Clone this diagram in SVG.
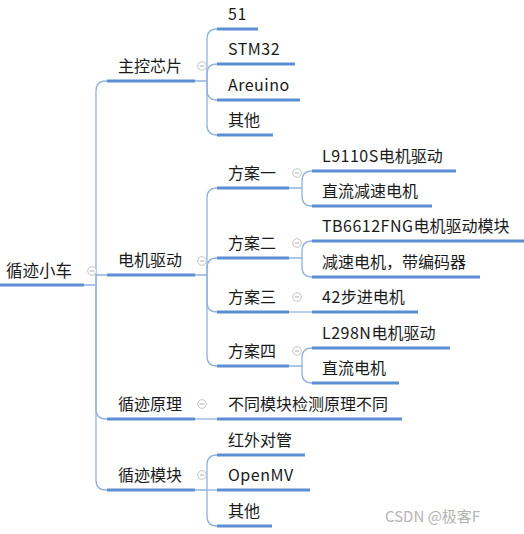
<svg xmlns="http://www.w3.org/2000/svg" width="524" height="534" viewBox="0 0 524 534">
<style>
text{font-family:"Noto Sans CJK SC","Microsoft YaHei",sans-serif;font-size:16px;fill:#1a1a1a}
.lt{letter-spacing:0.5px}
.ul{stroke:#5b8ed2;stroke-width:3;fill:none}
.cn{stroke:#90b2e0;stroke-width:1.3;fill:none}
.btn circle{fill:#fff;stroke:#c4c4c4;stroke-width:1}
.btn line{stroke:#b0b0b0;stroke-width:1}
.wm{fill:#b4b4b4;font-size:15px}
</style>
<defs>
<g id="btn" class="btn"><circle r="4.3"/><line x1="-2.3" y1="0" x2="2.3" y2="0"/></g>
</defs>
<rect width="524" height="534" fill="#fff"/>
<g id="connectors">
<path class="cn" d="M84 285H96V91Q96 81 106 81H107"/>
<path class="cn" d="M96 285V275H107"/>
<path class="cn" d="M96 285V409Q96 419 106 419H107"/>
<path class="cn" d="M96 285V480Q96 490 106 490H107"/>
<path class="cn" d="M195 81H207V39Q207 29 217 29"/>
<path class="cn" d="M207 81V74Q207 64 217 64"/>
<path class="cn" d="M207 81V90Q207 100 217 100"/>
<path class="cn" d="M207 81V125Q207 135 217 135"/>
<path class="cn" d="M195 275H207V198Q207 188 217 188"/>
<path class="cn" d="M207 275V268Q207 258 217 258"/>
<path class="cn" d="M207 275V302Q207 312 217 312"/>
<path class="cn" d="M207 275V356Q207 366 217 366"/>
<path class="cn" d="M289 188H302V181Q302 171 312 171"/>
<path class="cn" d="M302 188V196Q302 206 312 206"/>
<path class="cn" d="M289 258H302V251Q302 241 312 241"/>
<path class="cn" d="M302 258V267Q302 277 312 277"/>
<path class="cn" d="M289 312H312"/>
<path class="cn" d="M289 366H302V358Q302 348 312 348"/>
<path class="cn" d="M302 366V373Q302 383 312 383"/>
<path class="cn" d="M195 419H217"/>
<path class="cn" d="M195 490H207V465Q207 455 217 455"/>
<path class="cn" d="M207 490H217"/>
<path class="cn" d="M207 490V516Q207 526 217 526"/>
</g>
<g id="root"><text x="6" y="277" style="font-size:16.5px">循迹小车</text><path class="ul" d="M0 285H84"/><use href="#btn" x="92" y="271"/></g>
<g id="n-zhukong"><text x="118" y="72">主控芯片</text><path class="ul" d="M107 81H195"/><use href="#btn" x="202" y="66"/></g>
<g id="n-51"><text class="lt" x="228" y="20">51</text><path class="ul" d="M217 29H258"/></g>
<g id="n-stm32"><text class="lt" x="228" y="55">STM32</text><path class="ul" d="M217 64H295"/></g>
<g id="n-areuino"><text class="lt" x="228" y="91">Areuino</text><path class="ul" d="M217 100H300"/></g>
<g id="n-qita1"><text x="228" y="126">其他</text><path class="ul" d="M217 135H273"/></g>
<g id="n-dianji"><text x="118" y="266">电机驱动</text><path class="ul" d="M107 275H195"/><use href="#btn" x="202" y="261"/></g>
<g id="n-fa1"><text x="228" y="179">方案一</text><path class="ul" d="M217 188H289"/><use href="#btn" x="297" y="173"/></g>
<g id="n-l9110"><text x="322" y="162"><tspan class="lt">L9110S</tspan>电机驱动</text><path class="ul" d="M312 171H456"/></g>
<g id="n-zljs"><text x="322" y="197">直流减速电机</text><path class="ul" d="M312 206H432"/></g>
<g id="n-fa2"><text x="228" y="249">方案二</text><path class="ul" d="M217 258H289"/><use href="#btn" x="297" y="243"/></g>
<g id="n-tb6612"><text x="322" y="232"><tspan class="lt">TB6612FNG</tspan>电机驱动模块</text><path class="ul" d="M312 241H524"/></g>
<g id="n-jsdj"><text x="322" y="268">减速电机，带编码器</text><path class="ul" d="M312 277H480"/></g>
<g id="n-fa3"><text x="228" y="303">方案三</text><path class="ul" d="M217 312H289"/><use href="#btn" x="297" y="297"/></g>
<g id="n-42"><text x="322" y="303"><tspan class="lt">42</tspan>步进电机</text><path class="ul" d="M312 312H418"/></g>
<g id="n-fa4"><text x="228" y="357">方案四</text><path class="ul" d="M217 366H289"/><use href="#btn" x="297" y="351"/></g>
<g id="n-l298"><text x="322" y="339"><tspan class="lt">L298N</tspan>电机驱动</text><path class="ul" d="M312 348H450"/></g>
<g id="n-zldj"><text x="322" y="374">直流电机</text><path class="ul" d="M312 383H399"/></g>
<g id="n-yuanli"><text x="118" y="410">循迹原理</text><path class="ul" d="M107 419H195"/><use href="#btn" x="202" y="404"/></g>
<g id="n-butong"><text x="228" y="410">不同模块检测原理不同</text><path class="ul" d="M217 419H402"/></g>
<g id="n-mokuai"><text x="118" y="481">循迹模块</text><path class="ul" d="M107 490H195"/><use href="#btn" x="202" y="475"/></g>
<g id="n-hongwai"><text x="228" y="446">红外对管</text><path class="ul" d="M217 455H305"/></g>
<g id="n-openmv"><text class="lt" x="228" y="481">OpenMV</text><path class="ul" d="M217 490H310"/></g>
<g id="n-qita2"><text x="228" y="517">其他</text><path class="ul" d="M217 526H272"/></g>
<text class="wm" x="385" y="522">CSDN @极客F</text>
</svg>
